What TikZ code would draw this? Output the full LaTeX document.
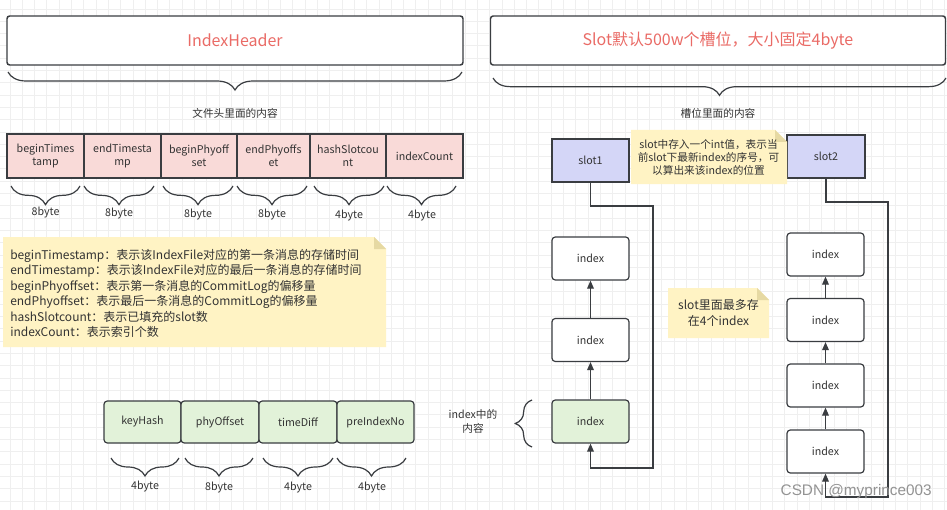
\documentclass[tikz,border=0pt]{standalone}
\usepackage{fontspec}
\setmainfont{Noto Sans CJK SC}
\newfontfamily\wmfont{Liberation Sans}
\usetikzlibrary{arrows.meta,decorations.pathreplacing}
\definecolor{strk}{HTML}{3A3D41}
\definecolor{txt}{HTML}{333333}
\definecolor{ttl}{HTML}{EA6B66}
\definecolor{pinkf}{HTML}{F9DAD8}
\definecolor{greenf}{HTML}{E2F2D9}
\definecolor{bluef}{HTML}{D4D6F7}
\definecolor{notef}{HTML}{FFF3C4}
\definecolor{foldc}{HTML}{E6D9A3}
\definecolor{gridc}{HTML}{EFEFEF}
\begin{document}
\begin{tikzpicture}[x=0.75pt,y=-0.75pt,
  every node/.style={text=txt,font=\fontsize{8}{10}\selectfont,inner sep=0pt},
  hdr/.style={draw=strk,line width=1.1pt,rounded corners=2pt,fill=white,text=ttl,font=\fontsize{12}{14}\selectfont},
  fld/.style={draw=strk,line width=0.9pt,fill=pinkf,align=center,minimum height=44*0.75pt},
  idxf/.style={draw=strk,line width=0.9pt,fill=greenf,rounded corners=2.5pt,minimum height=42*0.75pt},
  slotb/.style={draw=strk,line width=0.9pt,fill=bluef,minimum width=77*0.75pt,minimum height=43*0.75pt},
  ibox/.style={draw=strk,line width=0.9pt,fill=white,rounded corners=2.5pt,minimum width=77*0.75pt,minimum height=43*0.75pt},
  conn/.style={draw=strk,line width=0.9pt},
  arr/.style={conn,-{Triangle[length=6pt,width=5pt]}},
  brc/.style={draw=strk,line width=0.9pt,decorate,decoration={brace,amplitude=#1}},
  lbl/.style={font=\fontsize{8}{10}\selectfont}
]
\useasboundingbox (0,0) rectangle (947,510);
\fill[white] (0,0) rectangle (947,510);
% grid
\foreach \i in {0,...,76} {\draw[gridc,line width=0.7pt] (10+12.3*\i,0) -- (10+12.3*\i,510);}
\foreach \j in {0,...,41} {\draw[gridc,line width=0.7pt] (0,9+12.3*\j) -- (947,9+12.3*\j);}

% titles
\node[hdr,minimum width=456*0.75pt,minimum height=49*0.75pt] (ih) at (235,40.5) {IndexHeader};
\node[hdr,minimum width=455*0.75pt,minimum height=49*0.75pt] (sh) at (718,40.5) {Slot默认500w个槽位，大小固定4byte};
\draw[brc=13.5pt] (462,72) -- (8,72);
\draw[brc=13pt] (946,78) -- (493,78);
\node (ihc) at (235,113) {文件头里面的内容};
\node (shc) at (718,113) {槽位里面的内容};

% header fields
\node[fld,minimum width=77*0.75pt] (f1) at (45.5,156) {beginTimes\\tamp};
\node[fld,minimum width=77*0.75pt] (f2) at (122.5,156) {endTimesta\\mp};
\node[fld,minimum width=76*0.75pt] (f3) at (199,156) {beginPhyoff\\set};
\node[fld,minimum width=73*0.75pt] (f4) at (273.5,156) {endPhyoffs\\et};
\node[fld,minimum width=76*0.75pt] (f5) at (348,156) {hashSlotcou\\nt};
\node[fld,minimum width=77*0.75pt] (f6) at (424.5,156) {indexCount};
\draw[brc=14pt] (80,186) -- (11,186);
\draw[brc=14pt] (154,186) -- (84,186);
\draw[brc=14pt] (233,186) -- (163,186);
\draw[brc=14pt] (307,186) -- (237,186);
\draw[brc=14pt] (384,186) -- (314,186);
\draw[brc=14pt] (456,186) -- (387,186);
\node (b1) at (45.5,213) {8byte};
\node (b2) at (119,214) {8byte};
\node (b3) at (198,215) {8byte};
\node (b4) at (272,215) {8byte};
\node (b5) at (349,216) {4byte};
\node (b6) at (422,216) {4byte};

% left note
\fill[notef] (3,237) -- (374,237) -- (386,249) -- (386,347) -- (3,347) -- cycle;
\fill[foldc] (374,237) -- (386,249) -- (374,249) -- cycle;
\node[anchor=west,align=left,font=\fontsize{9}{11.6}\selectfont] (desc) at (10,293.5) {beginTimestamp：表示该IndexFile对应的第一条消息的存储时间\\
endTimestamp：表示该IndexFile对应的最后一条消息的存储时间\\
beginPhyoffset：表示第一条消息的CommitLog的偏移量\\
endPhyoffset：表示最后一条消息的CommitLog的偏移量\\
hashSlotcount：表示已填充的slot数\\
indexCount：表示索引个数};

% index fields
\node[idxf,minimum width=77*0.75pt] (k1) at (142.5,422) {keyHash};
\node[idxf,minimum width=78*0.75pt] (k2) at (220,422) {phyOffset};
\node[idxf,minimum width=78*0.75pt] (k3) at (298,422) {timeDiff};
\node[idxf,minimum width=77*0.75pt] (k4) at (375.5,422) {preIndexNo};
\draw[brc=13.5pt] (179,458) -- (111,458);
\draw[brc=13.5pt] (253,458) -- (185,458);
\draw[brc=13.5pt] (333,458) -- (263,458);
\draw[brc=13.5pt] (406,458) -- (337,458);
\node (c1) at (145,486) {4byte};
\node (c2) at (219,487) {8byte};
\node (c3) at (298,487) {4byte};
\node (c4) at (372,487) {4byte};

% index content label
\node[align=center] (ic) at (473,421.5) {index中的\\内容};
\draw[brc=12.5pt] (532,447) -- (532,400);

% slot column 1
\node[slotb] (s1) at (590.5,160.5) {slot1};
\node[ibox] (l1) at (590.5,258.5) {index};
\node[ibox] (l2) at (590.5,340) {index};
\node[ibox,fill=greenf] (l3) at (590.5,421.5) {index};
\draw[arr] (l3) -- (l2);
\draw[arr] (l2) -- (l1);
\coordinate (p1) at (653,206);
\coordinate (p2) at (653,468);
\draw[arr] (s1.south) |- (p1) -- (p2) -| (l3.south);

% slot column 2
\node[slotb,minimum width=78*0.75pt] (s2) at (826,156.5) {slot2};
\node[ibox] (r1) at (825.5,254.5) {index};
\node[ibox] (r2) at (825.5,320) {index};
\node[ibox] (r3) at (825.5,385.5) {index};
\node[ibox] (r4) at (825.5,451.5) {index};
\draw[arr] (r4) -- (r3);
\draw[arr] (r3) -- (r2);
\draw[arr] (r2) -- (r1);
\coordinate (q1) at (888,202);
\coordinate (q2) at (888,497);
\draw[arr] (s2.south) |- (q1) -- (q2) -| (r4.south);

% slot note
\fill[notef] (631,130) -- (775,130) -- (787,142) -- (787,184) -- (631,184) -- cycle;
\fill[foldc] (775,130) -- (787,142) -- (775,142) -- cycle;
\node[align=center,font=\fontsize{8}{10}\selectfont] (sn) at (708.5,157.5) {slot中存入一个int值，表示当\\前slot下最新index的序号，可\\以算出来该index的位置};

% max note
\fill[notef] (668,288) -- (757,288) -- (769,300) -- (769,338) -- (668,338) -- cycle;
\fill[foldc] (757,288) -- (769,300) -- (757,300) -- cycle;
\node[align=center,font=\fontsize{9}{11.5}\selectfont] (mn) at (718.5,313) {slot里面最多存\\在4个index};

% watermark
\node[anchor=east,text=gray!85,font=\wmfont\fontsize{11.5}{13}\selectfont] (wm) at (932,492) {CSDN @myprince003};
\end{tikzpicture}
\end{document}
